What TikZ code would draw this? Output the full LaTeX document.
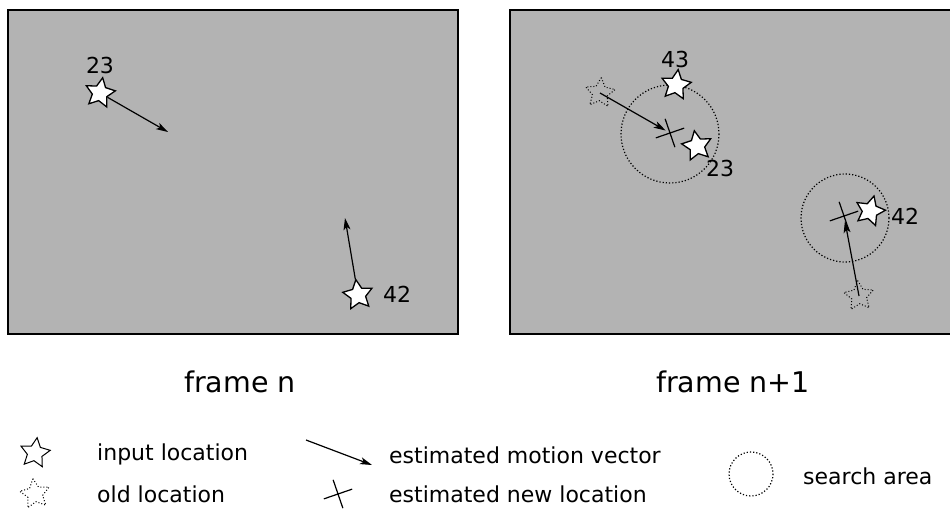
\documentclass[tikz,border=0pt]{standalone}
\usepackage{fontspec}
\setmainfont{DejaVu Sans}
\usepackage{tikz}
\usetikzlibrary{arrows.meta, shapes.geometric, shapes.misc}
\definecolor{framegray}{RGB}{179,179,179}
\tikzset{
  every node/.append style={font=\fontsize{22}{26}\selectfont},
  frame/.style={draw=black, line width=1.5pt, fill=framegray},
  newstar/.style={star, star points=5, star point ratio=2, minimum size=31pt,
    inner sep=0pt, draw=black, line width=1.3pt, fill=white},
  oldstar/.style={star, star points=5, star point ratio=2, minimum size=31pt,
    inner sep=0pt, draw=black, line width=1pt, dotted},
  vec/.style={-{Stealth[length=12pt, width=7pt, inset=3pt]}, line width=1.2pt},
  guess/.style={cross out, draw=black, minimum size=20pt, inner sep=0pt,
    line width=1.2pt, rotate=-26},
  area/.style={draw=black, line width=1.2pt, dotted},
  idlabel/.style={anchor=base, inner sep=0pt},
  legtext/.style={anchor=base west, inner sep=0pt}
}
\begin{document}
\begin{tikzpicture}[x=1pt, y=-1pt]
    \useasboundingbox (0,0) rectangle (950,512);
    % frame n
    \draw[frame] (8,10) rectangle (458,334);
    \node[newstar, rotate=-10] (s23) at (100,93) {};
    \node[idlabel] (l23) at (100,73) {23};
    \coordinate (e23) at (168,132);
    \draw[vec] (s23) -- (e23);
    \node[newstar, rotate=8] (s42) at (358,295) {};
    \node[idlabel] (l42) at (397,302) {42};
    \coordinate (e42) at (345,218);
    \draw[vec] (s42) -- (e42);
    \node (fn) at (240,382) {\fontsize{28.5}{32}\selectfont frame n};
    % frame n+1
    \begin{scope}
        \clip (0,0) rectangle (950,512);
        \draw[frame] (510,10) rectangle (958,334);
    \end{scope}
    \draw[area] (670,134) circle (49);
    \draw[area] (845,218) circle (44);
    \node[oldstar, rotate=-5] (o23) at (600,93) {};
    \node[guess] (x23) at (670,133) {};
    \draw[vec, shorten >=5pt] (o23.center) -- (x23.center);
    \node[newstar, rotate=-8] (n43) at (676,85) {};
    \node[idlabel] (m43) at (675,67) {43};
    \node[newstar, rotate=10] (n23) at (697,146) {};
    \node[idlabel] (m23) at (720,176) {23};
    \node[oldstar, rotate=5] (o42) at (859,296) {};
    \node[guess] (x42) at (844,216) {};
    \draw[vec, shorten >=5pt] (o42.center) -- (x42.center);
    \node[newstar, rotate=-15] (n42) at (870,211) {};
    \node[idlabel] (m42) at (905,224) {42};
    \node (fn1) at (733,382) {\fontsize{28.5}{32}\selectfont frame n+1};
    % legend
    \node[newstar, fill=none, line width=1pt, rotate=-8] (kin) at (35,453) {};
    \node[legtext] (tin) at (97,460) {input location};
    \node[oldstar, rotate=8] (kold) at (35,494) {};
    \node[legtext] (told) at (97,502) {old location};
    \coordinate (va) at (306,440);
    \coordinate (vb) at (372,465);
    \draw[vec] (va) -- (vb);
    \node[legtext] (tvec) at (389,463) {estimated motion vector};
    \node[guess] (kx) at (338,494) {};
    \node[legtext] (tx) at (389,502) {estimated new location};
    \draw[area] (751,474) circle (22);
    \node[legtext] (tarea) at (803,484) {search area};
\end{tikzpicture}
\end{document}
